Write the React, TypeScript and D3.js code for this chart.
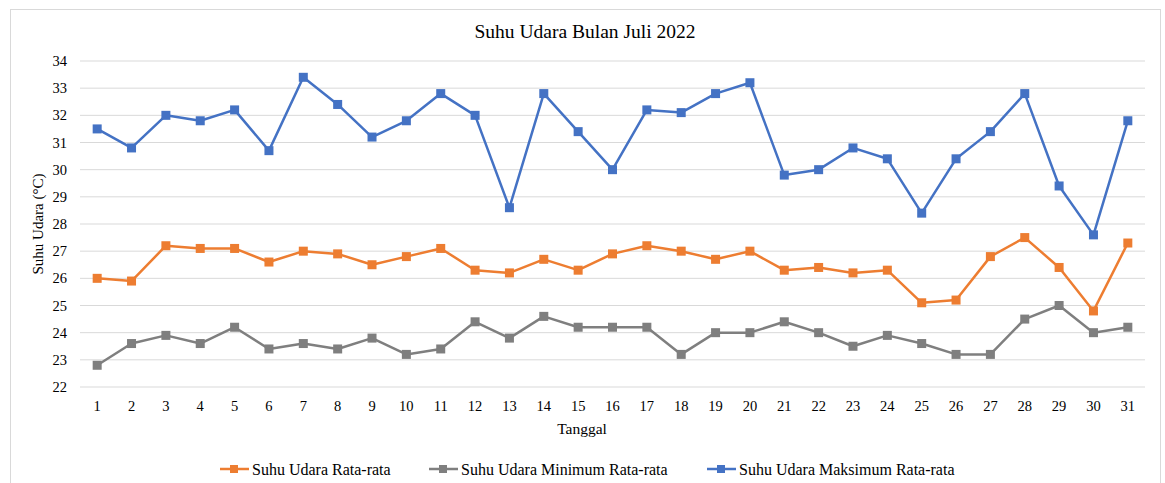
import React from "react";
import * as d3 from "d3";

const days = d3.range(1, 32);
const avgTemp = [26.0, 25.9, 27.2, 27.1, 27.1, 26.6, 27.0, 26.9, 26.5, 26.8, 27.1, 26.3, 26.2, 26.7, 26.3, 26.9, 27.2, 27.0, 26.7, 27.0, 26.3, 26.4, 26.2, 26.3, 25.1, 25.2, 26.8, 27.5, 26.4, 24.8, 27.3];
const minTemp = [22.8, 23.6, 23.9, 23.6, 24.2, 23.4, 23.6, 23.4, 23.8, 23.2, 23.4, 24.4, 23.8, 24.6, 24.2, 24.2, 24.2, 23.2, 24.0, 24.0, 24.4, 24.0, 23.5, 23.9, 23.6, 23.2, 23.2, 24.5, 25.0, 24.0, 24.2];
const maxTemp = [31.5, 30.8, 32.0, 31.8, 32.2, 30.7, 33.4, 32.4, 31.2, 31.8, 32.8, 32.0, 28.6, 32.8, 31.4, 30.0, 32.2, 32.1, 32.8, 33.2, 29.8, 30.0, 30.8, 30.4, 28.4, 30.4, 31.4, 32.8, 29.4, 27.6, 31.8];
const yTicks = d3.range(22, 35);
const seriesNames = ["Suhu Udara Rata-rata", "Suhu Udara Minimum Rata-rata", "Suhu Udara Maksimum Rata-rata"];
const seriesColors = ["#ED7D31", "#7F7F7F", "#4472C4"];

const FONT = "Liberation Serif, Times New Roman, DejaVu Serif, serif";

export default function App() {
  const W = 1165, H = 483;
  const plotLeft = 80, plotRight = 1145;
  const x = d3.scaleLinear().domain([0.5, 31.5]).range([plotLeft, plotRight]);
  const y = d3.scaleLinear().domain([22, 34]).range([387, 61]);
  const line = d3.line<number>().x((_, i) => x(days[i])).y((d) => y(d));
  const series = [avgTemp, minTemp, maxTemp];
  const legendX = [234, 443, 721];

  return (
    <svg width={W} height={H} fontFamily={FONT} style={{ position: "absolute", left: 0, top: 0 }}>
      <rect x={0} y={0} width={W} height={H} fill="#fff" />
      <rect x={10.5} y={9.5} width={1150} height={480} fill="#fff" stroke="#d9d9d9" strokeWidth={1} />
      <text x={585} y={38} textAnchor="middle" fontSize={19.5} fontFamily={FONT} fill="#000">Suhu Udara Bulan Juli 2022</text>
      {yTicks.map((t) => (
        <g key={t}>
          <line x1={plotLeft} x2={plotRight} y1={y(t)} y2={y(t)} stroke="#d9d9d9" strokeWidth={1} />
          <text x={67} y={y(t) + 5} textAnchor="end" fontSize={14.5} fontFamily={FONT} fill="#000">{t}</text>
        </g>
      ))}
      {days.map((d) => (
        <text key={d} x={x(d)} y={411} textAnchor="middle" fontSize={14.5} fontFamily={FONT} fill="#000">{d}</text>
      ))}
      <text x={582} y={434} textAnchor="middle" fontSize={15.5} fontFamily={FONT} fill="#000">Tanggal</text>
      <text transform={`translate(43, ${224}) rotate(-90)`} textAnchor="middle" fontSize={15} fontFamily={FONT} fill="#000">Suhu Udara (°C)</text>
      {series.map((s, si) => (
        <g key={si}>
          <path d={line(s) || ""} fill="none" stroke={seriesColors[si]} strokeWidth={2.5} strokeLinejoin="round" />
          {s.map((v, i) => (
            <rect key={i} x={x(days[i]) - 4.5} y={y(v) - 4.5} width={9} height={9} fill={seriesColors[si]} />
          ))}
        </g>
      ))}
      {seriesNames.map((n, i) => (
        <g key={n}>
          <line x1={legendX[i] - 14} x2={legendX[i] + 15} y1={469} y2={469} stroke={seriesColors[i]} strokeWidth={2.5} />
          <rect x={legendX[i] - 4} y={465} width={8} height={8} fill={seriesColors[i]} />
          <text x={legendX[i] + 18} y={474.5} fontSize={16} fontFamily={FONT} fill="#000">{n}</text>
        </g>
      ))}
    </svg>
  );
}
